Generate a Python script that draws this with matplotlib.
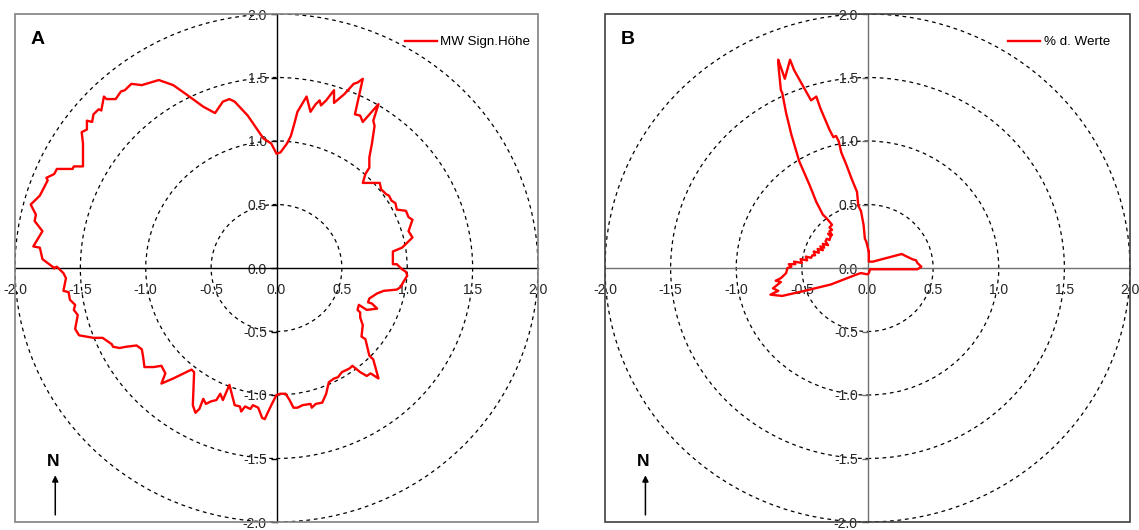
import matplotlib
matplotlib.use("Agg")
import matplotlib.pyplot as plt
from matplotlib.patches import Circle, Rectangle
from matplotlib.ticker import FormatStrFormatter

plt.rcParams['font.family'] = ['Liberation Sans', 'DejaVu Sans']
plt.rcParams['axes.unicode_minus'] = False

# rings and tick values shared by both panels
ring_radii = [0.5, 1.0, 1.5, 2.0]
axis_ticks = [-2.0, -1.5, -1.0, -0.5, 0.0, 0.5, 1.0, 1.5, 2.0]

# panel A: MW Sign.Höhe (x = east, y = north)
height_x = [-1.70, -1.79, -1.81, -1.86, -1.79, -1.85, -1.84, -1.88, -1.81, -1.79,
            -1.75, -1.76, -1.70, -1.68, -1.56, -1.55, -1.48, -1.48, -1.48, -1.49,
            -1.45, -1.45, -1.41, -1.40, -1.36, -1.34, -1.32, -1.30, -1.23, -1.19,
            -1.16, -1.11, -1.03, -0.90, -0.79, -0.68, -0.56, -0.47, -0.41, -0.36,
            -0.32, -0.22, -0.16, -0.10, -0.04, 0.00, 0.03, 0.08, 0.11, 0.14,
            0.16, 0.23, 0.26, 0.30, 0.33, 0.34, 0.38, 0.44, 0.44, 0.52,
            0.59, 0.62, 0.66, 0.60, 0.64, 0.66, 0.78, 0.74, 0.75, 0.73,
            0.71, 0.71, 0.68, 0.66, 0.72, 0.79, 0.80, 0.84, 0.86, 0.88,
            0.91, 0.92, 0.99, 1.01, 1.04, 1.01, 1.04, 0.96, 0.89, 0.89,
            0.92, 0.96, 0.99, 1.00, 0.97, 0.95, 0.92, 0.82, 0.77, 0.71,
            0.70, 0.73, 0.77, 0.69, 0.63, 0.62, 0.64, 0.64, 0.66, 0.65,
            0.68, 0.71, 0.74, 0.78, 0.72, 0.69, 0.64, 0.58, 0.56, 0.50,
            0.47, 0.44, 0.40, 0.38, 0.35, 0.30, 0.27, 0.26, 0.20, 0.16,
            0.13, 0.10, 0.07, 0.03, 0.00, -0.04, -0.09, -0.11, -0.14, -0.18,
            -0.20, -0.24, -0.27, -0.28, -0.32, -0.36, -0.41, -0.43, -0.46, -0.50,
            -0.54, -0.56, -0.59, -0.62, -0.64, -0.63, -0.65, -0.71, -0.79, -0.88,
            -0.85, -0.88, -0.94, -1.01, -1.02, -1.03, -1.07, -1.15, -1.20, -1.25,
            -1.26, -1.33, -1.40, -1.51, -1.54, -1.52, -1.55, -1.54, -1.58, -1.59,
            -1.63, -1.61, -1.63, -1.68]
height_y = [0.00, 0.07, 0.16, 0.17, 0.29, 0.37, 0.42, 0.50, 0.57, 0.61,
            0.69, 0.71, 0.74, 0.78, 0.78, 0.80, 0.80, 0.90, 0.98, 1.07,
            1.09, 1.16, 1.15, 1.21, 1.25, 1.24, 1.35, 1.33, 1.33, 1.39,
            1.40, 1.45, 1.44, 1.48, 1.44, 1.36, 1.27, 1.22, 1.31, 1.33,
            1.31, 1.20, 1.11, 1.02, 0.98, 0.90, 0.91, 0.98, 1.04, 1.15,
            1.23, 1.35, 1.23, 1.29, 1.32, 1.28, 1.32, 1.40, 1.30, 1.37,
            1.45, 1.46, 1.49, 1.21, 1.20, 1.15, 1.29, 1.16, 1.12, 0.98,
            0.87, 0.79, 0.74, 0.67, 0.67, 0.67, 0.62, 0.58, 0.57, 0.53,
            0.51, 0.46, 0.45, 0.40, 0.38, 0.29, 0.24, 0.16, 0.13, 0.03,
            0.03, -0.01, -0.03, -0.06, -0.11, -0.15, -0.17, -0.18, -0.20, -0.24,
            -0.27, -0.28, -0.32, -0.33, -0.29, -0.33, -0.35, -0.39, -0.45, -0.54,
            -0.56, -0.69, -0.72, -0.87, -0.83, -0.85, -0.82, -0.77, -0.79, -0.82,
            -0.86, -0.87, -0.90, -0.99, -1.06, -1.07, -1.10, -1.07, -1.08, -1.10,
            -1.10, -1.04, -0.99, -0.99, -1.00, -1.08, -1.19, -1.18, -1.10, -1.08,
            -1.11, -1.09, -1.13, -1.09, -1.08, -0.92, -1.04, -0.99, -1.04, -1.05,
            -1.07, -1.03, -1.11, -1.14, -1.08, -0.82, -0.80, -0.83, -0.87, -0.91,
            -0.83, -0.77, -0.78, -0.78, -0.70, -0.64, -0.61, -0.62, -0.63, -0.62,
            -0.60, -0.55, -0.55, -0.53, -0.48, -0.37, -0.33, -0.29, -0.25, -0.19,
            -0.18, -0.08, -0.04, 0.01]

# panel B: % d. Werte
share_x = [0.01, 0.01, 0.04, 0.15, 0.26, 0.34, 0.37, 0.38, 0.41, 0.38,
           0.26, 0.10, 0.02, 0.01, 0.00, -0.05, -0.08, -0.28, -0.48, -0.65,
           -0.74, -0.68, -0.72, -0.66, -0.70, -0.66, -0.62, -0.61, -0.58, -0.60,
           -0.55, -0.56, -0.50, -0.51, -0.46, -0.47, -0.43, -0.42, -0.40, -0.41,
           -0.37, -0.38, -0.34, -0.36, -0.33, -0.34, -0.30, -0.32, -0.31, -0.29,
           -0.28, -0.30, -0.27, -0.29, -0.27, -0.29, -0.27, -0.31, -0.34, -0.39,
           -0.44, -0.52, -0.58, -0.62, -0.65, -0.66, -0.68, -0.68, -0.63, -0.59,
           -0.56, -0.49, -0.43, -0.39, -0.36, -0.29, -0.26, -0.24, -0.22, -0.20,
           -0.16, -0.12, -0.08, -0.07, -0.05, -0.03, -0.02, -0.01]
share_y = [0.13, 0.05, 0.05, 0.08, 0.11, 0.07, 0.06, 0.04, 0.01, -0.01,
           -0.01, -0.01, -0.01, -0.04, -0.05, -0.04, -0.05, -0.13, -0.18, -0.22,
           -0.21, -0.18, -0.16, -0.11, -0.10, -0.08, -0.04, 0.00, 0.01, 0.03,
           0.03, 0.05, 0.04, 0.07, 0.06, 0.09, 0.08, 0.10, 0.10, 0.13,
           0.12, 0.15, 0.14, 0.17, 0.16, 0.19, 0.18, 0.21, 0.23, 0.22,
           0.25, 0.27, 0.26, 0.29, 0.30, 0.32, 0.34, 0.39, 0.42, 0.52,
           0.65, 0.84, 1.05, 1.22, 1.38, 1.40, 1.61, 1.64, 1.49, 1.64,
           1.56, 1.43, 1.32, 1.35, 1.26, 1.09, 1.03, 1.04, 1.00, 0.91,
           0.81, 0.70, 0.60, 0.49, 0.45, 0.34, 0.23, 0.21]


def draw_panel(ax, xs, ys, name, letter, axis_color, box_color, legend_x):
    ax.set_xlim(-2, 2)
    ax.set_ylim(-2, 2)
    for r in ring_radii:
        ax.add_patch(Circle((0, 0), r, fill=False, ec='black', lw=0.9,
                            ls=(0, (3, 3)), zorder=1))
    ax.plot(xs + xs[:1], ys + ys[:1], color='#ff0000', lw=1.7, label=name, zorder=3)

    # axes crossing at the origin
    for side in ['top', 'right']:
        ax.spines[side].set_visible(False)
    ax.spines['left'].set_position(('data', 0))
    ax.spines['bottom'].set_position(('data', 0))
    for side in ['left', 'bottom']:
        ax.spines[side].set_color(axis_color)
        ax.spines[side].set_linewidth(1.0)
    ax.add_patch(Rectangle((0, 0), 1, 1, transform=ax.transAxes, fill=False,
                           ec=box_color, lw=1.2, clip_on=False, zorder=4))

    ax.set_xticks(axis_ticks)
    ax.set_yticks(axis_ticks)
    ax.xaxis.set_major_formatter(FormatStrFormatter('%.1f'))
    ax.yaxis.set_major_formatter(FormatStrFormatter('%.1f'))
    ax.tick_params(axis='y', direction='out', length=4, width=1, pad=3,
                   labelsize=10, color=axis_color, labelcolor='#262626')
    ax.tick_params(axis='x', direction='out', length=0, width=1, pad=11,
                   labelsize=10, color=axis_color, labelcolor='#262626')

    ax.legend(loc='upper right', bbox_to_anchor=(legend_x, 0.957), frameon=False,
              fontsize=9.6, handlelength=2.4, handletextpad=0.25,
              borderpad=0, borderaxespad=0)

    ax.text(0.03, 0.95, letter, transform=ax.transAxes, fontsize=14,
            fontweight='bold', ha='left', va='center')
    ax.text(0.073, 0.12, 'N', transform=ax.transAxes, fontsize=12.5,
            fontweight='bold', ha='center', va='center')
    ax.annotate('', xy=(0.077, 0.092), xytext=(0.077, 0.014),
                xycoords='axes fraction',
                arrowprops=dict(arrowstyle='-|>', color='black', lw=1.1,
                                mutation_scale=9, shrinkA=0, shrinkB=0))


fig = plt.figure(figsize=(11.39, 5.30), dpi=100)
ax_a = fig.add_axes([15 / 1139, 8 / 530, 523 / 1139, 508 / 530])
ax_b = fig.add_axes([605 / 1139, 8 / 530, 525 / 1139, 508 / 530])

draw_panel(ax_a, height_x, height_y, 'MW Sign.Höhe', 'A', 'black', '#808080', 0.985)
draw_panel(ax_b, share_x, share_y, '% d. Werte', 'B', '#707070', '#404040', 0.962)

fig.savefig('out.png', dpi=100)
